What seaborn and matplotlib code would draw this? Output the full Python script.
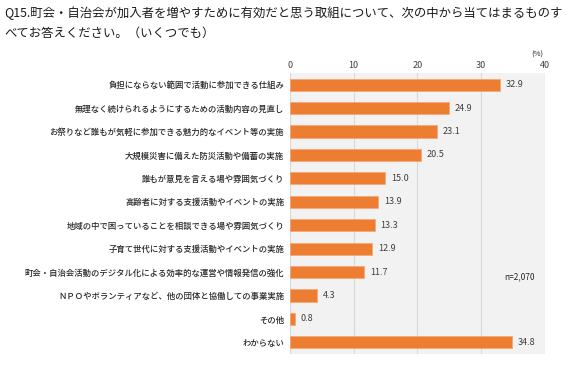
import numpy as np
import pandas as pd
import matplotlib.pyplot as plt
import seaborn as sns

# data
items = [
    '負担にならない範囲で活動に参加できる仕組み',
    '無理なく続けられるようにするための活動内容の見直し',
    'お祭りなど誰もが気軽に参加できる魅力的なイベント等の実施',
    '大規模災害に備えた防災活動や備蓄の実施',
    '誰もが意見を言える場や雰囲気づくり',
    '高齢者に対する支援活動やイベントの実施',
    '地域の中で困っていることを相談できる場や雰囲気づくり',
    '子育て世代に対する支援活動やイベントの実施',
    '町会・自治会活動のデジタル化による効率的な運営や情報発信の強化',
    'ＮＰＯやボランティアなど、他の団体と協働しての事業実施',
    'その他',
    'わからない',
]
percent = [32.9, 24.9, 23.1, 20.5, 15.0, 13.9, 13.3, 12.9, 11.7, 4.3, 0.8, 34.8]
x_ticks = [0, 10, 20, 30, 40]

df = pd.DataFrame({'item': items, 'pct': percent})

sns.set_style('white')
plt.rcParams['font.family'] = ['Noto Sans CJK JP', 'DejaVu Sans']

fig = plt.figure(figsize=(5.67, 3.65), dpi=100)
ax = fig.add_axes([0.511, 0.03, 0.45, 0.77])
ax.set_facecolor('#f2f2f2')

sns.barplot(data=df, x='pct', y='item', orient='h', color='#ed7d31',
            edgecolor='#f4a878', linewidth=0.6, width=0.52, saturation=1, ax=ax)

ax.set_xlim(0, 40)
ax.set_xticks(x_ticks)
ax.xaxis.tick_top()
ax.tick_params(axis='x', length=0, labelsize=6.5, labelcolor='#404040', pad=2)
ax.tick_params(axis='y', length=0, labelsize=6, labelcolor='#262626', pad=4)
for lab in ax.get_yticklabels():
    lab.set_fontweight('medium')
ax.grid(axis='x', color='#d9d9d9', linewidth=0.8)
ax.set_axisbelow(True)
for s in ax.spines.values():
    s.set_visible(False)
ax.set_xlabel('')
ax.set_ylabel('')

for i, v in enumerate(percent):
    ax.text(v + 0.9, i, f'{v:.1f}', va='center', ha='left', fontsize=6.5, color='#404040')

ax.text(0.96, 0.265, 'n=2,070', transform=ax.transAxes, fontsize=6, ha='right', color='#262626')
fig.text(0.947, 0.845, '(%)', fontsize=5.5, ha='center', color='#262626')

fig.text(0.008, 0.965, 'Q15.町会・自治会が加入者を増やすために有効だと思う取組について、次の中から当てはまるものす',
         fontsize=8.9, va='center', ha='left', color='#1a1a1a')
fig.text(0.008, 0.91, 'べてお答えください。（いくつでも）',
         fontsize=8.9, va='center', ha='left', color='#1a1a1a')

fig.savefig('out.png', dpi=100)
